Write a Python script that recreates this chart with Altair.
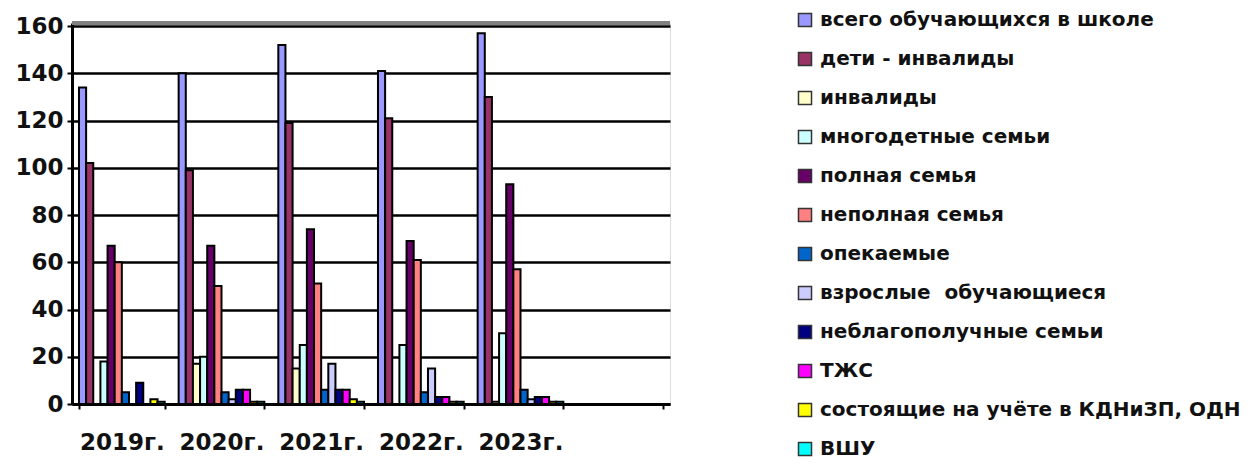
import altair as alt
import pandas as pd

years = ["2019г.", "2020г.", "2021г.", "2022г.", "2023г."]
x_domain = years + [" "]

series = [
    "всего обучающихся в школе",
    "дети - инвалиды",
    "инвалиды",
    "многодетные семьи",
    "полная семья",
    "неполная семья",
    "опекаемые",
    "взрослые\u00a0 обучающиеся",
    "неблагополучные семьи",
    "ТЖС",
    "состоящие на учёте в КДНиЗП, ОДН",
    "ВШУ",
]
colors = [
    "#9999FF", "#993366", "#FFFFCC", "#CCFFFF", "#660066", "#FF8080",
    "#0066CC", "#CCCCFF", "#000080", "#FF00FF", "#FFFF00", "#00FFFF",
]

v2019 = [134, 102, 0, 18, 67, 60, 5, 0, 9, 0, 2, 1]
v2020 = [140, 99, 17, 20, 67, 50, 5, 2, 6, 6, 1, 1]
v2021 = [152, 119, 15, 25, 74, 51, 6, 17, 6, 6, 2, 1]
v2022 = [141, 121, 0, 25, 69, 61, 5, 15, 3, 3, 1, 1]
v2023 = [157, 130, 1, 30, 93, 57, 6, 2, 3, 3, 1, 1]

rows = []
for yr, vals in zip(years, [v2019, v2020, v2021, v2022, v2023]):
    for i, (s, v) in enumerate(zip(series, vals)):
        rows.append({"year": yr, "series": s, "order": i, "value": v})
df = pd.DataFrame(rows)

FONT = "DejaVu Sans"

bars = alt.Chart(df).mark_bar(stroke="black", strokeWidth=2).encode(
    x=alt.X(
        "year:N",
        scale=alt.Scale(domain=x_domain, paddingInner=0.14, paddingOuter=0.07),
        axis=alt.Axis(
            title=None, labelAngle=0, tickBand="extent", tickSize=5, tickWidth=2,
            tickColor="black", domainColor="black", domainWidth=3,
            labelFont=FONT, labelFontWeight="bold", labelFontSize=23,
            labelColor="#111111", labelPadding=22, labelBaseline="top",
        ),
    ),
    xOffset=alt.XOffset("series:N", sort=series, scale=alt.Scale(paddingInner=0, paddingOuter=0)),
    y=alt.Y(
        "value:Q",
        scale=alt.Scale(domain=[0, 161.3], nice=False),
        axis=alt.Axis(
            title=None, values=[0, 20, 40, 60, 80, 100, 120, 140, 160],
            grid=True, gridColor="black", gridWidth=2.5,
            tickSize=5, tickWidth=2, tickColor="black",
            domainColor="black", domainWidth=3,
            labelFont=FONT, labelFontWeight="bold", labelFontSize=23,
            labelColor="#111111", labelPadding=4,
        ),
    ),
    color=alt.Color(
        "series:N",
        sort=series,
        scale=alt.Scale(domain=series, range=colors),
        legend=alt.Legend(
            title=None, orient="none", legendX=723, legendY=-13,
            symbolType="square", symbolSize=170, symbolStrokeColor="#333333",
            symbolStrokeWidth=1.5, labelFont=FONT, labelFontWeight="bold",
            labelFontSize=20, labelColor="#111111", labelOffset=5,
            rowPadding=19.0, padding=0, labelLimit=600,
        ),
    ),
)

top_line = alt.Chart(df).mark_rule(color="#808080", strokeWidth=3).encode(
    y=alt.value(0), x=alt.value(0), x2=alt.value(598)
)

chart = alt.layer(bars, top_line).properties(
    width=598, height=381,
    autosize=alt.AutoSizeParams(type="none"),
    padding={"left": 64, "top": 15, "right": 575, "bottom": 56},
).configure_view(fill="#C0C0C0", stroke=None).configure(background="white")

chart.save("out.html", embed_options={"renderer": "svg", "actions": False})
